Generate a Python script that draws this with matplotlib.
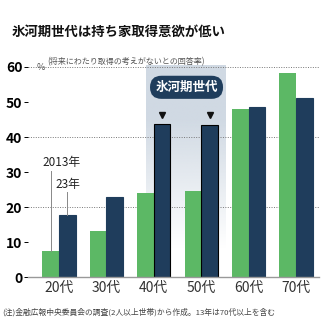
import numpy as np
import matplotlib.pyplot as plt
from matplotlib.patches import FancyBboxPatch

plt.rcParams['font.family'] = ['Noto Sans CJK JP', 'DejaVu Sans']

# data
ages = ["20代", "30代", "40代", "50代", "60代", "70代"]
y2013 = [7.4, 13.1, 24.1, 24.7, 47.9, 58.2]
y2023 = [17.7, 22.9, 43.6, 43.3, 48.6, 51.1]
yticks = [0, 10, 20, 30, 40, 50, 60]

GREEN = "#5cb865"
NAVY = "#1f3d5c"

fig = plt.figure(figsize=(3.35, 3.35), dpi=100)
ax = fig.add_axes([0.0836, 0.1731, 0.8687, 0.6269])

x = np.arange(len(ages))
w = 0.35

# shaded "glacier generation" band with fade to white
grad = np.linspace(1, 0, 100).reshape(-1, 1)
rgba = np.zeros((100, 1, 4))
rgba[..., 0] = 0xd0 / 255
rgba[..., 1] = 0xd9 / 255
rgba[..., 2] = 0xe3 / 255
rgba[..., 3] = np.clip(grad * 1.4, 0, 1)
ax.imshow(rgba, extent=[1.835, 3.52, 8, 60.3], aspect="auto", zorder=0,
          clip_on=False, interpolation="bilinear")

ax.bar(x - w / 2, y2013, w, color=GREEN, zorder=2)
edge = [NAVY, NAVY, "black", "black", NAVY, NAVY]
ax.bar(x + w / 2, y2023, w, color=NAVY, edgecolor=edge, linewidth=0.8, zorder=2)

for g in [20, 40, 60]:
    ax.axhline(g, color="#777777", linestyle=(0, (1, 1.5)), linewidth=0.7, zorder=1)

ax.set_xlim(-0.654, 5.485)
ax.set_ylim(0, 60)
ax.set_yticks(yticks)
ax.set_yticklabels([str(v) for v in yticks], fontsize=10, fontweight="bold")
ax.set_xticks(x)
ax.set_xticklabels(ages, fontsize=10, color="#333333")
ax.tick_params(axis="y", length=3, width=0.7, pad=1)
ax.tick_params(axis="x", length=0, pad=3)
for s in ["top", "right", "left"]:
    ax.spines[s].set_visible(False)
ax.spines["bottom"].set_color("#999999")
ax.spines["bottom"].set_linewidth(1.0)

# label box
box = FancyBboxPatch((1.92, 50.9), 1.54, 6.6, boxstyle="round,pad=0,rounding_size=0.24",
                     mutation_aspect=13.6, facecolor=NAVY, edgecolor="none", zorder=3, clip_on=False)
ax.add_patch(box)
ax.text(2.69, 54.2, "氷河期世代", color="white", fontsize=9, fontweight="bold",
        ha="center", va="center", zorder=4)
for xx in [2 + w / 2, 3 + w / 2]:
    ax.plot(xx, 46.3, marker="v", color="#111111", markersize=4, zorder=4)

# annotations
ax.plot([-w / 2, -w / 2], [y2013[0], 30.3], color="#888888", linewidth=0.7, zorder=3)
ax.plot([w / 2, w / 2], [y2023[0], 24.2], color="#888888", linewidth=0.7, zorder=3)
ax.text(0.06, 32.8, "2013年", fontsize=8.5, ha="center", va="center", color="#222222")
ax.text(0.19, 26.5, "23年", fontsize=8.5, ha="center", va="center", color="#222222")

# titles and notes
fig.text(0.036, 0.905, "氷河期世代は持ち家取得意欲が低い", fontsize=9.6, fontweight="bold",
         ha="left", va="center", color="#111111")
fig.text(0.14, 0.815, "(将来にわたり取得の考えがないとの回答率)", fontsize=5.8,
         ha="left", va="center", color="#555555")
fig.text(0.108, 0.798, "%", fontsize=6.5, ha="left", va="center", color="#555555")
fig.text(0.008, 0.068, "(注)金融広報中央委員会の調査(2人以上世帯)から作成。13年は70代以上を含む",
         fontsize=5.6, ha="left", va="center", color="#444444")

fig.savefig("out.png", dpi=100)
